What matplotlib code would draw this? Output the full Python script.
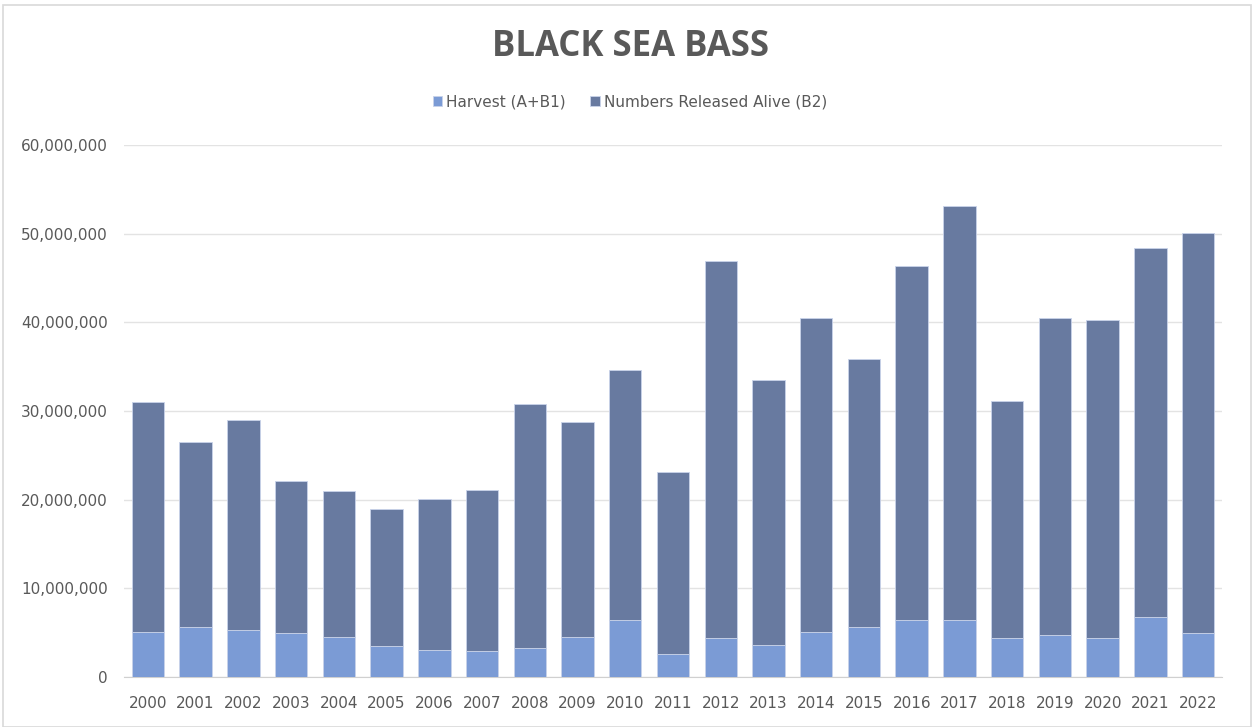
import matplotlib
matplotlib.use("Agg")
import matplotlib.pyplot as plt
from matplotlib.ticker import FuncFormatter, MultipleLocator
from matplotlib.patches import Rectangle

years = [str(y) for y in range(2000, 2023)]
total = [31.0, 26.45, 29.0, 22.07, 20.97, 18.98, 20.07, 21.13, 30.79, 28.8,
         34.6, 23.15, 46.96, 33.5, 40.45, 35.84, 46.4, 53.16, 31.14, 40.45,
         40.23, 48.4, 50.05]
harvest = [5.12, 5.64, 5.27, 4.93, 4.55, 3.46, 3.09, 2.93, 3.27, 4.55,
           6.39, 2.56, 4.36, 3.65, 5.12, 5.64, 6.39, 6.39, 4.36, 4.74,
           4.36, 6.73, 4.93]
harvest = [h * 1e6 for h in harvest]
released = [t * 1e6 - h for t, h in zip(total, harvest)]

W, H = 1252, 727
fig = plt.figure(figsize=(W / 100, H / 100), dpi=100)
fig.patch.set_facecolor("white")
fig.patches.append(Rectangle((3 / W, 0), (W - 4) / W, (H - 5) / H,
                             transform=fig.transFigure, fill=False,
                             edgecolor="#d9d9d9", linewidth=1.2))

left, right = 124 / W, 1222 / W
bottom, top = (H - 677) / H, (H - 145) / H
ax = fig.add_axes([left, bottom, right - left, top - bottom])

c_h = "#7b9bd5"
c_r = "#687aa0"
x = range(len(years))
ax.bar(x, harvest, width=0.68, color=c_h, edgecolor="#c9d3ea", linewidth=0.6,
       label="Harvest (A+B1)", zorder=3)
ax.bar(x, released, width=0.68, bottom=harvest, color=c_r, edgecolor="#c9d3ea",
       linewidth=0.6, label="Numbers Released Alive (B2)", zorder=3)

ax.set_xlim(-0.5, len(years) - 0.5)
ax.set_ylim(0, 60e6)
ax.yaxis.set_major_locator(MultipleLocator(10e6))
ax.yaxis.set_major_formatter(FuncFormatter(lambda v, p: f"{int(v):,}"))
ax.set_xticks(list(x))
ax.set_xticklabels(years)
ax.grid(axis="y", color="#e3e3e3", linewidth=1, zorder=0)
for s in ["top", "right", "left"]:
    ax.spines[s].set_visible(False)
ax.spines["bottom"].set_color("#d0d0d0")
ax.tick_params(axis="both", length=0, colors="#595959", labelsize=11)
ax.tick_params(axis="y", pad=11.5)
ax.tick_params(axis="x", pad=14)

fig.text(630 / W, 1 - 47 / H, "BLACK SEA BASS", ha="center", va="center",
         fontsize=25, fontweight="bold", color="#595959", family="Open Sans")
leg = fig.legend(loc="center", bbox_to_anchor=(630 / W, 1 - 102 / H), ncol=2,
                 frameon=False, fontsize=11, handlelength=0.6, handleheight=0.6,
                 columnspacing=1.6, handletextpad=0.3, labelcolor="#595959")

fig.savefig("out.png", dpi=100, facecolor="white")
